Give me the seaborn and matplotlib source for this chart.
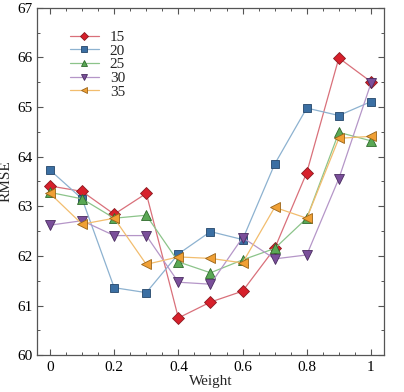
import matplotlib
matplotlib.use("Agg")
import matplotlib.pyplot as plt
from matplotlib.ticker import MultipleLocator
import numpy as np
import pandas as pd
import seaborn as sns

weights = [0, 0.1, 0.2, 0.3, 0.4, 0.5, 0.6, 0.7, 0.8, 0.9, 1.0]
rmse_15 = [63.41, 63.30, 62.84, 63.26, 60.75, 61.07, 61.29, 62.15, 63.68, 65.99, 65.51]
rmse_20 = [63.73, 63.15, 61.36, 61.26, 62.04, 62.49, 62.33, 63.85, 64.98, 64.83, 65.11]
rmse_25 = [63.28, 63.15, 62.76, 62.82, 61.88, 61.66, 61.92, 62.15, 62.76, 64.49, 64.32]
rmse_30 = [62.62, 62.71, 62.41, 62.41, 61.47, 61.43, 62.37, 61.94, 62.02, 63.56, 65.48]
rmse_35 = [63.26, 62.64, 62.76, 61.83, 61.98, 61.95, 61.86, 62.98, 62.76, 64.37, 64.41]

labels = ["15", "20", "25", "30", "35"]
series = [rmse_15, rmse_20, rmse_25, rmse_30, rmse_35]

# ── Styles ────────────────────────────────────────────────────────────────────
FACE  = ["#d7202b", "#3b6fa3", "#5aa855", "#7a4f9a", "#f0a035"]
LINE  = ["#d9707a", "#8db2d0", "#8cc48a", "#b596c8", "#f2bd6e"]
EDGE  = ["#8a1a20", "#24466a", "#2f6a2c", "#4a2d60", "#9a6418"]
MARK  = ["D", "s", "^", "v", "<"]
MSIZE = [6.5, 6, 7, 7, 7]

sns.set_style("ticks")
plt.rcParams["font.family"] = ["Liberation Serif", "DejaVu Serif"]

fig = plt.figure(figsize=(4.04, 3.92), dpi=100)
ax = fig.add_axes([0.092, 0.094, 0.858, 0.886])

for lab, vals, fc, lc, ec, m, ms in zip(labels, series, FACE, LINE, EDGE, MARK, MSIZE):
    df = pd.DataFrame({"Weight": weights, "RMSE": vals})
    sns.lineplot(data=df, x="Weight", y="RMSE", ax=ax, color=lc, lw=0.9,
                 marker=m, markersize=ms, markerfacecolor=fc,
                 markeredgecolor=ec, markeredgewidth=0.6, label=lab)

ax.set_xlim(-0.04, 1.04)
ax.set_ylim(60, 67)
ax.xaxis.set_minor_locator(MultipleLocator(0.05))
ax.yaxis.set_major_locator(MultipleLocator(1))
ax.yaxis.set_minor_locator(MultipleLocator(0.5))
ax.set_xticks(weights[::2])
ax.set_xticklabels(["0", "0.2", "0.4", "0.6", "0.8", "1"])
ax.tick_params(which="both", direction="in", top=True, right=True,
               labelsize=11, colors="#555555", labelcolor="black")
ax.tick_params(which="major", length=4, width=0.8)
ax.tick_params(axis="x", which="major", pad=4)
ax.tick_params(which="minor", length=2.2, width=0.7)
for sp in ax.spines.values():
    sp.set_edgecolor("#555555")
    sp.set_linewidth(0.9)

ax.set_xlabel("Weight", fontsize=11, labelpad=1)
ax.set_ylabel("RMSE", fontsize=11, labelpad=3)

leg = ax.legend(loc="upper left", bbox_to_anchor=(0.055, 0.975), frameon=False,
                fontsize=11, handlelength=1.9, handletextpad=0.7,
                labelspacing=0.0, markerscale=0.7)

fig.savefig("out.png", dpi=100)
